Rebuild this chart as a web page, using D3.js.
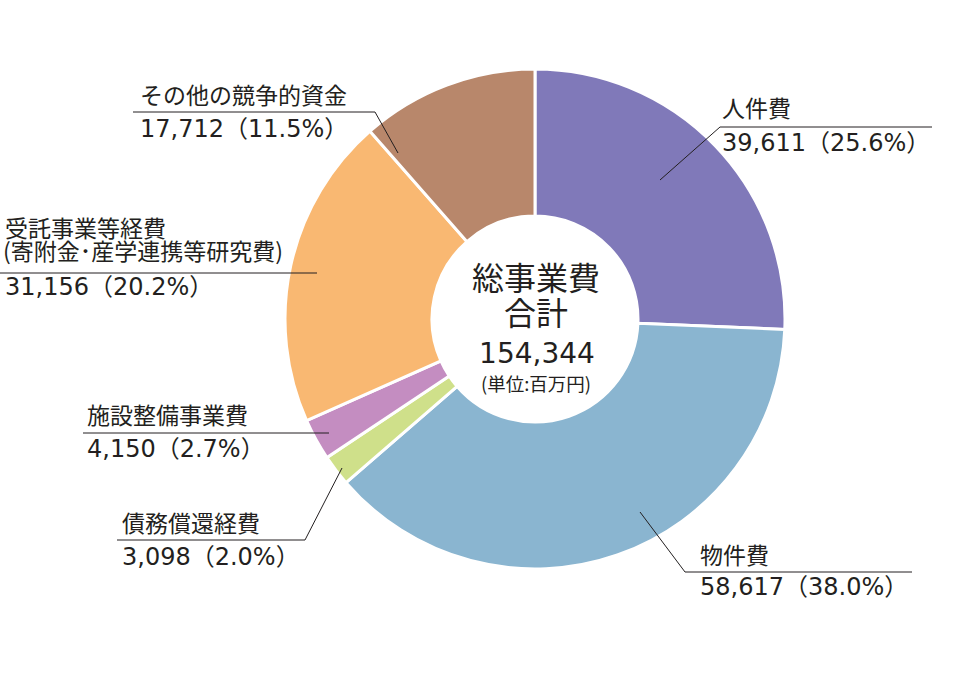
<!DOCTYPE html>
<html>
<head>
<meta charset="utf-8">
<script src="https://cdn.jsdelivr.net/npm/d3@7"></script>
<style>
  body { margin: 0; background: #fff; }
  text { font-family: "Noto Sans CJK JP", "Noto Sans", sans-serif; fill: #231f20; }
  text.num { font-family: "DejaVu Sans", "Noto Sans CJK JP", sans-serif; }
</style>
</head>
<body>
<div id="chart"></div>
<script>
// data (単位: 百万円)
const categories = ["人件費", "物件費", "債務償還経費", "施設整備事業費", "受託事業等経費", "その他の競争的資金"];
const subLabels  = ["", "", "", "", "(寄附金･産学連携等研究費)", ""];
const values     = [39611, 58617, 3098, 4150, 31156, 17712];
const percents   = ["25.6", "38.0", "2.0", "2.7", "20.2", "11.5"];
const colors     = ["#8079b9", "#8ab5d0", "#cfe08a", "#c48dc1", "#f9b872", "#b8876b"];
const total      = 154344;

// label placement (annotation layout, not data)
const labelLayout = [
  {x: 722, nameY: 117, valY: 151, lineY: 127, x1: 720, x2: 932, lead: [660, 180]},
  {x: 700, nameY: 564, valY: 595, lineY: 572, x1: 685, x2: 912, lead: [640, 512]},
  {x: 122, nameY: 532, valY: 565, lineY: 540, x1: 117, x2: 305, lead: [342, 468], leadAt: "x2"},
  {x: 87,  nameY: 424, valY: 457, lineY: 433, x1: 83,  x2: 329, lead: null},
  {x: 5,   nameY: 237, valY: 295, lineY: 273, x1: 0,   x2: 317, lead: null},
  {x: 140, nameY: 104, valY: 137, lineY: 112, x1: 133, x2: 375, lead: [398, 153], leadAt: "x2"}
];

const width = 960, height = 688;
const cx = 535, cy = 319, outerR = 250, innerR = 103;

const svg = d3.select("#chart")
  .append("svg")
    .attr("width", width)
    .attr("height", height);

const pie = d3.pie().sort(null).value(d => d);
const arc = d3.arc().innerRadius(innerR).outerRadius(outerR);

const g = svg.append("g").attr("transform", `translate(${cx},${cy})`);

g.selectAll("path")
  .data(pie(values))
  .join("path")
    .attr("d", arc)
    .attr("fill", (d, i) => colors[i])
    .attr("stroke", "#fff")
    .attr("stroke-width", 3)
    .attr("stroke-linejoin", "miter");

// leader lines + labels
const fmt = d3.format(",");
const lab = svg.append("g");

labelLayout.forEach((L, i) => {
  const joinX = L.leadAt === "x2" ? L.x2 : L.x1;
  if (L.lead) {
    lab.append("line")
      .attr("x1", L.lead[0]).attr("y1", L.lead[1])
      .attr("x2", joinX).attr("y2", L.lineY)
      .attr("stroke", "#231f20").attr("stroke-width", 1);
  }
  lab.append("line")
    .attr("x1", L.x1).attr("y1", L.lineY)
    .attr("x2", L.x2).attr("y2", L.lineY)
    .attr("stroke", "#231f20").attr("stroke-width", 1);

  lab.append("text")
    .attr("x", L.x).attr("y", L.nameY)
    .attr("font-size", 23)
    .text(categories[i]);
  if (subLabels[i]) {
    lab.append("text")
      .attr("x", L.x - 2).attr("y", L.nameY + 23)
      .attr("font-size", 23)
      .text(subLabels[i]);
  }
  lab.append("text")
    .attr("class", "num")
    .attr("x", L.x).attr("y", L.valY)
    .attr("font-size", 24)
    .text(`${fmt(values[i])}（${percents[i]}%）`);
});

// centre text
const ctr = svg.append("g").attr("text-anchor", "middle");
ctr.append("text").attr("x", cx + 1).attr("y", 290).attr("font-size", 32).text("総事業費");
ctr.append("text").attr("x", cx + 1).attr("y", 325).attr("font-size", 32).text("合計");
ctr.append("text").attr("class", "num").attr("x", cx + 2).attr("y", 363).attr("font-size", 28).text(fmt(total));
ctr.append("text").attr("x", cx + 1).attr("y", 391).attr("font-size", 18.5).text("(単位:百万円)");
</script>
</body>
</html>
